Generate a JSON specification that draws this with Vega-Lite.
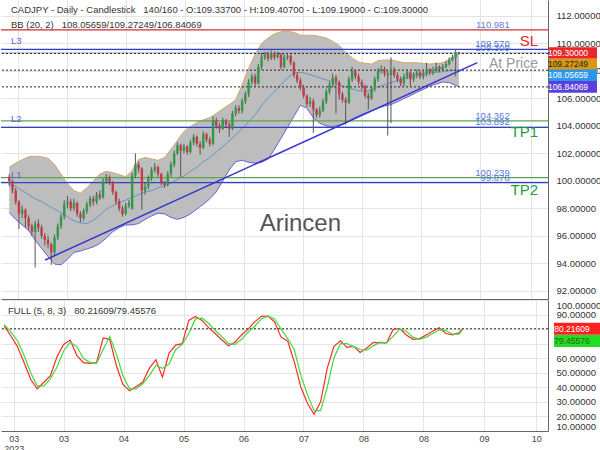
{
"$schema": "https://vega.github.io/schema/vega-lite/v6.json",
"background": "white",
"padding": 0,
"spacing": 1,
"config": {
 "view": {"stroke": null},
 "font": "Liberation Sans",
 "axis": {"gridColor": "#e4e4e4", "domainColor": "#666666", "labelColor": "#333333", "labelFont": "Liberation Sans", "labelFontSize": 9.5, "ticks": false, "title": null, "labelOverlap": false, "labelBound": false}
},
"datasets": {
 "candles": [
{"i":0,"o":100.3,"h":100.5,"l":99.6,"c":100.0},
{"i":1,"o":100.0,"h":100.1,"l":99.1,"c":99.3},
{"i":2,"o":99.3,"h":99.5,"l":98.3,"c":98.5},
{"i":3,"o":98.5,"h":98.6,"l":96.5,"c":97.6},
{"i":4,"o":97.6,"h":98.2,"l":97.3,"c":97.9},
{"i":5,"o":97.9,"h":98.0,"l":96.6,"c":97.3},
{"i":6,"o":97.3,"h":97.5,"l":96.4,"c":96.7},
{"i":7,"o":96.7,"h":96.9,"l":96.0,"c":96.3},
{"i":8,"o":96.3,"h":97.1,"l":93.7,"c":96.9},
{"i":9,"o":96.9,"h":97.2,"l":96.3,"c":96.6},
{"i":10,"o":96.6,"h":96.8,"l":95.8,"c":96.0},
{"i":11,"o":96.0,"h":96.2,"l":95.3,"c":95.7},
{"i":12,"o":95.7,"h":96.0,"l":95.1,"c":95.4},
{"i":13,"o":95.4,"h":95.5,"l":93.9,"c":94.8},
{"i":14,"o":94.8,"h":96.1,"l":94.6,"c":95.9},
{"i":15,"o":95.9,"h":96.9,"l":95.7,"c":96.7},
{"i":16,"o":96.7,"h":97.6,"l":96.5,"c":97.4},
{"i":17,"o":97.4,"h":98.6,"l":97.2,"c":98.3},
{"i":18,"o":98.3,"h":98.9,"l":98.0,"c":98.5},
{"i":19,"o":98.5,"h":98.7,"l":97.8,"c":98.0},
{"i":20,"o":98.0,"h":98.7,"l":97.8,"c":98.4},
{"i":21,"o":98.4,"h":98.5,"l":97.4,"c":97.6},
{"i":22,"o":97.6,"h":97.8,"l":97.0,"c":97.3},
{"i":23,"o":97.3,"h":98.0,"l":97.1,"c":97.8},
{"i":24,"o":97.8,"h":98.5,"l":97.6,"c":98.3},
{"i":25,"o":98.3,"h":98.9,"l":98.1,"c":98.7},
{"i":26,"o":98.7,"h":98.9,"l":98.2,"c":98.5},
{"i":27,"o":98.5,"h":99.2,"l":98.3,"c":99.0},
{"i":28,"o":99.0,"h":99.3,"l":98.6,"c":98.8},
{"i":29,"o":98.8,"h":100.2,"l":98.7,"c":100.0},
{"i":30,"o":100.0,"h":100.5,"l":99.8,"c":100.2},
{"i":31,"o":100.2,"h":100.4,"l":99.7,"c":99.9},
{"i":32,"o":99.9,"h":100.0,"l":99.0,"c":99.2},
{"i":33,"o":99.2,"h":99.3,"l":98.3,"c":98.5},
{"i":34,"o":98.5,"h":98.7,"l":97.8,"c":98.0},
{"i":35,"o":98.0,"h":98.2,"l":97.4,"c":97.6},
{"i":36,"o":97.6,"h":98.4,"l":97.5,"c":98.2},
{"i":37,"o":98.2,"h":98.6,"l":98.0,"c":98.4},
{"i":38,"o":98.0,"h":100.6,"l":97.9,"c":100.4},
{"i":39,"o":100.4,"h":102.0,"l":100.2,"c":101.2},
{"i":40,"o":101.2,"h":101.4,"l":100.6,"c":100.9},
{"i":41,"o":100.9,"h":101.0,"l":97.9,"c":99.3},
{"i":42,"o":99.3,"h":99.9,"l":99.0,"c":99.6},
{"i":43,"o":99.6,"h":100.4,"l":99.4,"c":100.2},
{"i":44,"o":100.2,"h":101.0,"l":100.0,"c":100.8},
{"i":45,"o":100.8,"h":101.3,"l":100.6,"c":101.0},
{"i":46,"o":101.0,"h":101.1,"l":100.3,"c":100.5},
{"i":47,"o":100.5,"h":100.6,"l":99.7,"c":99.9},
{"i":48,"o":99.9,"h":100.0,"l":99.5,"c":99.7},
{"i":49,"o":99.7,"h":100.7,"l":99.6,"c":100.5},
{"i":50,"o":100.5,"h":101.4,"l":100.3,"c":101.2},
{"i":51,"o":101.2,"h":102.2,"l":101.0,"c":102.0},
{"i":52,"o":102.0,"h":102.8,"l":101.9,"c":102.6},
{"i":53,"o":102.6,"h":102.7,"l":100.3,"c":102.2},
{"i":54,"o":102.2,"h":102.7,"l":102.0,"c":102.5},
{"i":55,"o":102.5,"h":102.6,"l":101.9,"c":102.1},
{"i":56,"o":102.1,"h":103.0,"l":102.0,"c":102.8},
{"i":57,"o":102.8,"h":103.4,"l":102.6,"c":103.2},
{"i":58,"o":103.2,"h":103.3,"l":102.5,"c":102.7},
{"i":59,"o":102.7,"h":102.9,"l":101.9,"c":102.4},
{"i":60,"o":102.4,"h":103.6,"l":102.3,"c":103.4},
{"i":61,"o":103.4,"h":103.5,"l":102.8,"c":103.0},
{"i":62,"o":103.0,"h":103.2,"l":102.5,"c":102.7},
{"i":63,"o":102.7,"h":104.7,"l":102.6,"c":104.4},
{"i":64,"o":104.4,"h":104.6,"l":103.8,"c":104.0},
{"i":65,"o":104.0,"h":104.2,"l":103.5,"c":103.8},
{"i":66,"o":103.8,"h":104.6,"l":103.7,"c":104.4},
{"i":67,"o":104.4,"h":104.5,"l":103.9,"c":104.1},
{"i":68,"o":104.1,"h":104.3,"l":103.2,"c":103.8},
{"i":69,"o":103.8,"h":105.1,"l":103.7,"c":104.9},
{"i":70,"o":104.9,"h":105.5,"l":104.7,"c":105.3},
{"i":71,"o":105.3,"h":105.5,"l":104.9,"c":105.1},
{"i":72,"o":105.1,"h":106.0,"l":104.9,"c":105.8},
{"i":73,"o":105.8,"h":106.5,"l":105.6,"c":106.3},
{"i":74,"o":106.3,"h":107.4,"l":106.1,"c":107.2},
{"i":75,"o":107.2,"h":107.8,"l":107.0,"c":107.6},
{"i":76,"o":107.6,"h":107.8,"l":106.9,"c":107.1},
{"i":77,"o":107.1,"h":108.5,"l":107.0,"c":108.3},
{"i":78,"o":108.3,"h":109.3,"l":108.1,"c":109.0},
{"i":79,"o":109.0,"h":109.4,"l":108.8,"c":109.2},
{"i":80,"o":109.2,"h":109.4,"l":108.7,"c":108.9},
{"i":81,"o":108.9,"h":109.5,"l":108.8,"c":109.3},
{"i":82,"o":109.3,"h":109.4,"l":108.8,"c":109.0},
{"i":83,"o":109.0,"h":109.4,"l":108.9,"c":109.2},
{"i":84,"o":109.2,"h":109.3,"l":108.1,"c":108.3},
{"i":85,"o":108.3,"h":109.2,"l":108.2,"c":109.0},
{"i":86,"o":109.0,"h":109.3,"l":108.8,"c":109.1},
{"i":87,"o":109.1,"h":109.2,"l":108.4,"c":108.6},
{"i":88,"o":108.6,"h":108.7,"l":107.5,"c":107.7},
{"i":89,"o":107.7,"h":107.9,"l":107.1,"c":107.3},
{"i":90,"o":107.3,"h":107.5,"l":106.6,"c":106.8},
{"i":91,"o":106.8,"h":107.0,"l":106.0,"c":106.2},
{"i":92,"o":106.2,"h":106.3,"l":105.4,"c":105.6},
{"i":93,"o":105.6,"h":106.1,"l":105.4,"c":105.8},
{"i":94,"o":105.8,"h":106.0,"l":103.5,"c":105.2},
{"i":95,"o":105.2,"h":105.3,"l":104.6,"c":104.8},
{"i":96,"o":104.8,"h":105.4,"l":104.6,"c":105.1},
{"i":97,"o":105.1,"h":106.0,"l":105.0,"c":105.8},
{"i":98,"o":105.8,"h":106.7,"l":105.6,"c":106.5},
{"i":99,"o":106.5,"h":107.2,"l":106.3,"c":107.0},
{"i":100,"o":107.0,"h":107.8,"l":106.8,"c":107.5},
{"i":101,"o":107.5,"h":107.7,"l":104.9,"c":107.2},
{"i":102,"o":107.2,"h":107.3,"l":105.9,"c":106.3},
{"i":103,"o":106.3,"h":106.5,"l":105.7,"c":105.9},
{"i":104,"o":105.9,"h":106.1,"l":104.1,"c":105.7},
{"i":105,"o":105.7,"h":107.6,"l":105.6,"c":107.4},
{"i":106,"o":107.4,"h":108.3,"l":107.2,"c":108.0},
{"i":107,"o":108.0,"h":108.1,"l":107.4,"c":107.6},
{"i":108,"o":107.6,"h":107.8,"l":107.0,"c":107.2},
{"i":109,"o":107.2,"h":107.4,"l":106.6,"c":106.9},
{"i":110,"o":106.9,"h":107.0,"l":106.0,"c":106.2},
{"i":111,"o":106.2,"h":106.4,"l":105.2,"c":106.0},
{"i":112,"o":106.0,"h":106.9,"l":105.9,"c":106.7},
{"i":113,"o":106.7,"h":107.6,"l":106.5,"c":107.4},
{"i":114,"o":107.4,"h":108.2,"l":107.2,"c":108.0},
{"i":115,"o":108.0,"h":108.4,"l":107.8,"c":108.1},
{"i":116,"o":108.1,"h":108.3,"l":107.6,"c":107.8},
{"i":117,"o":107.8,"h":108.0,"l":103.3,"c":107.7},
{"i":118,"o":107.7,"h":109.0,"l":104.2,"c":108.1},
{"i":119,"o":108.1,"h":108.3,"l":107.5,"c":107.7},
{"i":120,"o":107.7,"h":107.9,"l":107.2,"c":107.4},
{"i":121,"o":107.4,"h":107.6,"l":106.9,"c":107.1},
{"i":122,"o":107.1,"h":107.8,"l":106.9,"c":107.6},
{"i":123,"o":107.6,"h":108.1,"l":107.4,"c":107.9},
{"i":124,"o":107.9,"h":108.0,"l":106.9,"c":107.4},
{"i":125,"o":107.4,"h":107.9,"l":107.2,"c":107.7},
{"i":126,"o":107.7,"h":108.1,"l":107.5,"c":107.9},
{"i":127,"o":107.9,"h":108.0,"l":107.4,"c":107.6},
{"i":128,"o":107.6,"h":108.0,"l":107.4,"c":107.8},
{"i":129,"o":107.8,"h":108.6,"l":107.6,"c":108.1},
{"i":130,"o":108.1,"h":108.2,"l":107.7,"c":107.9},
{"i":131,"o":107.9,"h":108.3,"l":107.7,"c":108.0},
{"i":132,"o":108.0,"h":108.6,"l":107.9,"c":108.3},
{"i":133,"o":108.3,"h":108.4,"l":107.9,"c":108.1},
{"i":134,"o":108.1,"h":108.5,"l":108.0,"c":108.3},
{"i":135,"o":108.3,"h":108.7,"l":108.2,"c":108.5},
{"i":136,"o":108.5,"h":109.0,"l":108.4,"c":108.8},
{"i":137,"o":108.8,"h":109.2,"l":108.7,"c":109.0},
{"i":138,"o":109.0,"h":109.6,"l":107.6,"c":109.34},
{"i":139,"o":109.337,"h":109.407,"l":109.19,"c":109.3}
 ],
 "bb": [
{"i":0,"u":101.0,"m":99.8,"lo":97.7},
{"i":2,"u":101.3,"m":99.6,"lo":97.2},
{"i":4,"u":101.55,"m":99.3,"lo":96.8},
{"i":6,"u":101.75,"m":99.0,"lo":96.4},
{"i":8,"u":101.8,"m":98.7,"lo":95.7},
{"i":10,"u":101.75,"m":98.5,"lo":95.1},
{"i":12,"u":101.65,"m":98.2,"lo":94.5},
{"i":14,"u":101.2,"m":97.95,"lo":93.95},
{"i":16,"u":100.5,"m":97.7,"lo":93.9},
{"i":18,"u":99.8,"m":97.4,"lo":94.3},
{"i":20,"u":99.3,"m":97.1,"lo":94.8},
{"i":22,"u":99.1,"m":96.95,"lo":94.9},
{"i":24,"u":99.5,"m":96.9,"lo":95.05},
{"i":26,"u":100.0,"m":97.15,"lo":95.2},
{"i":28,"u":100.5,"m":97.5,"lo":95.45},
{"i":30,"u":100.7,"m":97.95,"lo":95.85},
{"i":32,"u":100.6,"m":98.2,"lo":96.3},
{"i":34,"u":100.45,"m":98.45,"lo":96.6},
{"i":36,"u":100.3,"m":98.6,"lo":96.8},
{"i":38,"u":100.75,"m":98.8,"lo":96.8},
{"i":40,"u":101.55,"m":99.0,"lo":96.9},
{"i":42,"u":101.7,"m":99.2,"lo":97.2},
{"i":44,"u":101.6,"m":99.3,"lo":97.45},
{"i":46,"u":101.5,"m":99.5,"lo":97.65},
{"i":48,"u":101.7,"m":99.65,"lo":97.6},
{"i":50,"u":102.3,"m":99.85,"lo":97.35},
{"i":52,"u":102.95,"m":100.1,"lo":97.2},
{"i":54,"u":103.6,"m":100.35,"lo":97.35},
{"i":56,"u":103.95,"m":100.7,"lo":97.6},
{"i":58,"u":104.25,"m":101.0,"lo":97.95},
{"i":60,"u":104.45,"m":101.4,"lo":98.3},
{"i":62,"u":104.6,"m":101.7,"lo":98.7},
{"i":64,"u":104.9,"m":102.1,"lo":99.2},
{"i":66,"u":105.25,"m":102.5,"lo":100.0},
{"i":68,"u":105.55,"m":102.9,"lo":100.8},
{"i":70,"u":105.9,"m":103.35,"lo":101.4},
{"i":72,"u":107.0,"m":103.8,"lo":101.5},
{"i":74,"u":108.2,"m":104.3,"lo":101.35},
{"i":76,"u":109.2,"m":104.8,"lo":101.3},
{"i":78,"u":110.0,"m":105.5,"lo":101.35},
{"i":80,"u":110.4,"m":106.0,"lo":101.6},
{"i":82,"u":110.7,"m":106.5,"lo":102.3},
{"i":84,"u":110.85,"m":107.0,"lo":103.1},
{"i":86,"u":110.9,"m":107.5,"lo":103.9},
{"i":88,"u":110.8,"m":107.85,"lo":104.7},
{"i":90,"u":110.6,"m":107.9,"lo":105.5},
{"i":92,"u":110.6,"m":107.8,"lo":105.3},
{"i":94,"u":110.6,"m":107.65,"lo":104.6},
{"i":96,"u":110.5,"m":107.5,"lo":104.2},
{"i":98,"u":110.4,"m":107.35,"lo":104.0},
{"i":100,"u":110.15,"m":107.2,"lo":103.95},
{"i":102,"u":109.85,"m":107.0,"lo":104.05},
{"i":104,"u":109.35,"m":106.85,"lo":104.2},
{"i":106,"u":108.95,"m":106.7,"lo":104.5},
{"i":108,"u":108.65,"m":106.55,"lo":104.75},
{"i":110,"u":108.55,"m":106.5,"lo":104.95},
{"i":112,"u":108.5,"m":106.6,"lo":105.1},
{"i":114,"u":108.75,"m":106.85,"lo":105.3},
{"i":116,"u":108.8,"m":107.0,"lo":105.45},
{"i":118,"u":108.8,"m":107.15,"lo":105.55},
{"i":120,"u":108.7,"m":107.3,"lo":105.75},
{"i":122,"u":108.6,"m":107.45,"lo":106.0},
{"i":124,"u":108.6,"m":107.6,"lo":106.2},
{"i":126,"u":108.6,"m":107.75,"lo":106.45},
{"i":128,"u":108.55,"m":107.8,"lo":106.65},
{"i":130,"u":108.5,"m":107.85,"lo":106.9},
{"i":132,"u":108.55,"m":107.9,"lo":107.05},
{"i":134,"u":108.6,"m":107.95,"lo":107.2},
{"i":136,"u":108.85,"m":108.0,"lo":107.15},
{"i":138,"u":109.2,"m":108.05,"lo":106.95},
{"i":139,"u":109.27249,"m":108.05659,"lo":106.84069}
 ],
 "stoch": [
{"i":0,"k":82,"d":83},{"i":2,"k":75.3,"d":78},{"i":4,"k":68,"d":72},{"i":6,"k":57,"d":62},{"i":8,"k":45.5,"d":50},
{"i":10,"k":39,"d":41},{"i":12,"k":43.5,"d":41},{"i":14,"k":48,"d":46},{"i":16,"k":61,"d":54},{"i":18,"k":69.5,"d":65},
{"i":20,"k":72.5,"d":71},{"i":22,"k":62,"d":68},{"i":24,"k":57,"d":60},{"i":26,"k":56.4,"d":57},{"i":28,"k":57,"d":56.5},
{"i":30,"k":74,"d":66},{"i":32,"k":73,"d":75},{"i":34,"k":55,"d":63},{"i":36,"k":42,"d":48},{"i":38,"k":37.6,"d":39},
{"i":40,"k":40.5,"d":39},{"i":42,"k":43.5,"d":42.5},{"i":44,"k":53,"d":48},{"i":46,"k":59,"d":55},{"i":48,"k":47,"d":53},
{"i":50,"k":63.5,"d":56},{"i":52,"k":69,"d":66},{"i":54,"k":70,"d":69.5},{"i":56,"k":86,"d":77},{"i":58,"k":88.7,"d":87},
{"i":60,"k":86,"d":87.5},{"i":62,"k":81,"d":84},{"i":64,"k":77,"d":79},{"i":66,"k":72.7,"d":75},{"i":68,"k":68.5,"d":70},
{"i":70,"k":71,"d":69.5},{"i":72,"k":76,"d":73},{"i":74,"k":80,"d":78},{"i":76,"k":85,"d":82},{"i":78,"k":88.8,"d":87},
{"i":80,"k":89,"d":89},{"i":82,"k":85,"d":87},{"i":84,"k":74.5,"d":80},{"i":86,"k":71.8,"d":73.5},{"i":88,"k":57.6,"d":66},
{"i":90,"k":40,"d":48},{"i":92,"k":29,"d":35},{"i":94,"k":21.5,"d":24},{"i":96,"k":30,"d":24},{"i":98,"k":53,"d":40},
{"i":100,"k":68,"d":60},{"i":102,"k":72,"d":70},{"i":104,"k":67.5,"d":70},{"i":106,"k":68.2,"d":68},{"i":108,"k":64,"d":66},
{"i":110,"k":67,"d":65.5},{"i":112,"k":70.9,"d":68.5},{"i":114,"k":70.5,"d":71},{"i":116,"k":70.5,"d":70.5},{"i":118,"k":79.8,"d":75},
{"i":120,"k":80.4,"d":80},{"i":122,"k":76,"d":78.5},{"i":124,"k":73,"d":74.5},{"i":126,"k":73.5,"d":73},{"i":128,"k":76,"d":74.5},
{"i":130,"k":78.5,"d":77},{"i":132,"k":80.9,"d":79.5},{"i":134,"k":77,"d":79},{"i":136,"k":76,"d":76.5},{"i":138,"k":77.5,"d":76.5},
{"i":139,"k":80.21609,"d":79.45576}
 ],
 "levels": [
{"v":110.981,"t":"110.981","kind":"red"},
{"v":109.57,"t":"109.570","kind":"blue"},
{"v":109.309,"t":"109.309","kind":"light"},
{"v":104.362,"t":"104.362","kind":"green"},
{"v":103.892,"t":"103.892","kind":"blue"},
{"v":100.239,"t":"100.239","kind":"green"},
{"v":99.878,"t":"99.878","kind":"blue"}
 ]
},
"vconcat": [
{
 "width": 547,
 "height": 299,
 "layer": [
  {
   "data": {"name": "bb"},
   "mark": {"type": "area", "color": "#bdbdbd", "opacity": 1},
   "encoding": {
    "x": {"field": "i", "type": "quantitative", "scale": {"domain": [-1, 165], "nice": false, "zero": false},
          "axis": {"values": [2.85, 17.97, 36.2, 54.4, 72.6, 90.8, 109.0, 127.2, 145.6, 161.4], "tickCount": 30, "grid": true, "labels": false, "ticks": false, "domain": true}},
    "y": {"field": "u", "type": "quantitative", "scale": {"domain": [91.41, 113.16], "nice": false, "zero": false},
          "axis": {"orient": "right", "values": [92,94,96,98,100,102,104,106,108,110,112], "tickCount": 30, "format": ".5f", "grid": true, "labelPadding": 8, "domain": true, "labelOverlap": false}},
    "y2": {"field": "lo"}
   }
  },
  {"data": {"name": "bb"}, "mark": {"type": "line", "color": "#d2aa6a", "strokeWidth": 1}, "encoding": {"x": {"field": "i", "type": "quantitative"}, "y": {"field": "u", "type": "quantitative"}}},
  {"data": {"name": "bb"}, "mark": {"type": "line", "color": "#6a5fd8", "strokeWidth": 1}, "encoding": {"x": {"field": "i", "type": "quantitative"}, "y": {"field": "lo", "type": "quantitative"}}},
  {"data": {"name": "bb"}, "mark": {"type": "line", "color": "#5b8fc0", "strokeWidth": 0.9}, "encoding": {"x": {"field": "i", "type": "quantitative"}, "y": {"field": "m", "type": "quantitative"}}},
  {"data": {"name": "levels"}, "transform": [{"filter": "datum.kind == 'red'"}], "mark": {"type": "rule", "color": "#d03030", "strokeWidth": 1.2}, "encoding": {"y": {"field": "v", "type": "quantitative"}}},
  {"data": {"name": "levels"}, "transform": [{"filter": "datum.kind == 'blue'"}], "mark": {"type": "rule", "color": "#3040cc", "strokeWidth": 1.2}, "encoding": {"y": {"field": "v", "type": "quantitative"}}},
  {"data": {"name": "levels"}, "transform": [{"filter": "datum.kind == 'light'"}], "mark": {"type": "rule", "color": "#9aa8e0", "strokeWidth": 1}, "encoding": {"y": {"field": "v", "type": "quantitative"}}},
  {"data": {"name": "levels"}, "transform": [{"filter": "datum.kind == 'green'"}], "mark": {"type": "rule", "color": "#5aa55a", "strokeWidth": 1.2}, "encoding": {"y": {"field": "v", "type": "quantitative"}}},
  {"data": {"values": [{"v": 109.27249}, {"v": 108.05659}, {"v": 106.84069}]}, "mark": {"type": "rule", "color": "#222222", "strokeWidth": 1, "strokeDash": [2, 2]}, "encoding": {"y": {"field": "v", "type": "quantitative"}}},
  {"data": {"name": "candles"}, "mark": {"type": "rule", "color": "#555555", "strokeWidth": 1}, "encoding": {"x": {"field": "i", "type": "quantitative"}, "y": {"field": "l", "type": "quantitative"}, "y2": {"field": "h"}}},
  {"data": {"name": "candles"}, "mark": {"type": "bar", "width": 2.4},
   "encoding": {"x": {"field": "i", "type": "quantitative"}, "y": {"field": "o", "type": "quantitative"}, "y2": {"field": "c"},
    "color": {"condition": {"test": "datum.c >= datum.o", "value": "#2f9a48"}, "value": "#c93a48"}}},
  {"data": {"values": [{"i": 11.1, "v": 94.25}, {"i": 144.7, "v": 108.6}]}, "mark": {"type": "line", "color": "#3434d4", "strokeWidth": 1.5}, "encoding": {"x": {"field": "i", "type": "quantitative"}, "y": {"field": "v", "type": "quantitative"}}},
  {"data": {"name": "levels"}, "mark": {"type": "text", "align": "right", "baseline": "bottom", "fontSize": 9.5, "color": "#5a7be0", "dy": 0},
   "encoding": {"x": {"datum": 154.7}, "y": {"field": "v", "type": "quantitative"}, "text": {"field": "t"}}},
  {"data": {"values": [{"v": 109.57, "t": "L3"}, {"v": 103.892, "t": "L2"}, {"v": 99.878, "t": "L1"}]}, "mark": {"type": "text", "align": "left", "baseline": "bottom", "fontSize": 9.5, "color": "#4a66d8", "dx": 5, "dy": -3},
   "encoding": {"x": {"datum": -1}, "y": {"field": "v", "type": "quantitative"}, "text": {"field": "t"}}},
  {"data": {"values": [{"t": "SL"}]}, "mark": {"type": "text", "align": "right", "baseline": "middle", "fontSize": 15, "color": "#e3262b", "dx": -5, "dy": 11},
   "encoding": {"x": {"datum": 165}, "y": {"datum": 110.981}, "text": {"field": "t"}}},
  {"data": {"values": [{"t": "At Price"}]}, "mark": {"type": "text", "align": "right", "baseline": "middle", "fontSize": 14, "color": "#9a9a9a", "dx": -5, "dy": 10.5},
   "encoding": {"x": {"datum": 165}, "y": {"datum": 109.27249}, "text": {"field": "t"}}},
  {"data": {"values": [{"t": "TP1"}]}, "mark": {"type": "text", "align": "right", "baseline": "middle", "fontSize": 15, "color": "#1e9e3e", "dx": -5, "dy": 5},
   "encoding": {"x": {"datum": 165}, "y": {"datum": 103.892}, "text": {"field": "t"}}},
  {"data": {"values": [{"t": "TP2"}]}, "mark": {"type": "text", "align": "right", "baseline": "middle", "fontSize": 15, "color": "#1e9e3e", "dx": -5, "dy": 7},
   "encoding": {"x": {"datum": 165}, "y": {"datum": 99.878}, "text": {"field": "t"}}},
  {"data": {"values": [{"t": "Arincen"}]}, "mark": {"type": "text", "align": "center", "baseline": "middle", "fontSize": 24, "color": "#555555"},
   "encoding": {"x": {"datum": 90}, "y": {"datum": 96.9}, "text": {"field": "t"}}},
  {"data": {"values": [{"t": "CADJPY - Daily - Candlestick \u00a0\u00a0140/160 - O:109.33700 - H:109.40700 - L:109.19000 - C:109.30000"}]},
   "mark": {"type": "text", "align": "left", "baseline": "middle", "fontSize": 9.5, "color": "#333333", "dx": 5, "dy": 10},
   "encoding": {"x": {"datum": -1}, "y": {"datum": 113.16}, "text": {"field": "t"}}},
  {"data": {"values": [{"t": "BB (20, 2) \u00a0\u00a0108.05659/109.27249/106.84069"}]},
   "mark": {"type": "text", "align": "left", "baseline": "middle", "fontSize": 9.5, "color": "#333333", "dx": 5, "dy": 25},
   "encoding": {"x": {"datum": -1}, "y": {"datum": 113.16}, "text": {"field": "t"}}},
  {"data": {"values": [{"v": 109.3}]}, "mark": {"type": "point", "shape": "M-1,-0.24L1,-0.24L1,0.24L-1,0.24Z", "size": 2304, "filled": true, "opacity": 1, "color": "#e8262b", "xOffset": 30}, "encoding": {"x": {"datum": 165}, "y": {"field": "v", "type": "quantitative"}}},
  {"data": {"values": [{"v": 109.3}]}, "mark": {"type": "text", "align": "center", "baseline": "middle", "fontSize": 8.5, "color": "white", "dx": 25}, "encoding": {"x": {"datum": 165}, "y": {"field": "v", "type": "quantitative"}, "text": {"value": "109.30000"}}},
  {"data": {"values": [{"v": 109.27249}]}, "mark": {"type": "point", "shape": "M-1,-0.24L1,-0.24L1,0.24L-1,0.24Z", "size": 2304, "filled": true, "opacity": 1, "color": "#d89a14", "xOffset": 30, "yOffset": 11}, "encoding": {"x": {"datum": 165}, "y": {"field": "v", "type": "quantitative"}}},
  {"data": {"values": [{"v": 109.27249}]}, "mark": {"type": "text", "align": "center", "baseline": "middle", "fontSize": 8.5, "color": "#222222", "dx": 25, "dy": 11}, "encoding": {"x": {"datum": 165}, "y": {"field": "v", "type": "quantitative"}, "text": {"value": "109.27249"}}},
  {"data": {"values": [{"v": 108.05659}]}, "mark": {"type": "point", "shape": "M-1,-0.24L1,-0.24L1,0.24L-1,0.24Z", "size": 2304, "filled": true, "opacity": 1, "color": "#2c96ee", "xOffset": 30, "yOffset": 5}, "encoding": {"x": {"datum": 165}, "y": {"field": "v", "type": "quantitative"}}},
  {"data": {"values": [{"v": 108.05659}]}, "mark": {"type": "text", "align": "center", "baseline": "middle", "fontSize": 8.5, "color": "white", "dx": 25, "dy": 5}, "encoding": {"x": {"datum": 165}, "y": {"field": "v", "type": "quantitative"}, "text": {"value": "108.05659"}}},
  {"data": {"values": [{"v": 106.84069}]}, "mark": {"type": "point", "shape": "M-1,-0.24L1,-0.24L1,0.24L-1,0.24Z", "size": 2304, "filled": true, "opacity": 1, "color": "#5a3fdc", "xOffset": 30}, "encoding": {"x": {"datum": 165}, "y": {"field": "v", "type": "quantitative"}}},
  {"data": {"values": [{"v": 106.84069}]}, "mark": {"type": "text", "align": "center", "baseline": "middle", "fontSize": 8.5, "color": "white", "dx": 25}, "encoding": {"x": {"datum": 165}, "y": {"field": "v", "type": "quantitative"}, "text": {"value": "106.84069"}}}
 ]
},
{
 "width": 547,
 "height": 131,
 "layer": [
  {"data": {"values": [{"v": 80.21609}]}, "mark": {"type": "rule", "color": "#222222", "strokeWidth": 1, "strokeDash": [2, 2]},
   "encoding": {
    "y": {"field": "v", "type": "quantitative", "scale": {"domain": [10, 100], "nice": false, "zero": false},
          "axis": {"orient": "right", "values": [10,20,30,40,50,60,70,80,90,100], "tickCount": 30, "format": ".5f", "grid": true, "labelPadding": 8, "labelFlush": true, "labelOverlap": false, "domain": true}}
   }},
  {"data": {"name": "stoch"}, "mark": {"type": "line", "color": "#ff2a2a", "strokeWidth": 1.2},
   "encoding": {
    "x": {"field": "i", "type": "quantitative", "scale": {"domain": [-1, 165], "nice": false, "zero": false},
          "axis": {"values": [2.85, 17.97, 36.2, 54.4, 72.6, 90.8, 109.0, 127.2, 145.6, 161.4], "tickCount": 30, "grid": true, "domain": true, "ticks": false, "labelFontSize": 9, "labelColor": "#444444", "labelPadding": 3, "labelLineHeight": 10, "labelBaseline": "top",
           "labelExpr": "datum.value < 5 ? ['03','2023'] : datum.value < 20 ? '03' : datum.value < 40 ? '04' : datum.value < 60 ? '05' : datum.value < 80 ? '06' : datum.value < 100 ? '07' : datum.value < 140 ? '08' : datum.value < 150 ? '09' : '10'"}},
    "y": {"field": "k", "type": "quantitative"}
   }},
  {"data": {"name": "stoch"}, "mark": {"type": "line", "color": "#3ddc3d", "strokeWidth": 1.2}, "encoding": {"x": {"field": "i", "type": "quantitative"}, "y": {"field": "d", "type": "quantitative"}}},
  {"data": {"values": [{"t": "FULL (5, 8, 3) \u00a0\u00a080.21609/79.45576"}]}, "mark": {"type": "text", "align": "left", "baseline": "middle", "fontSize": 9.5, "color": "#333333", "dx": 7, "dy": 11},
   "encoding": {"x": {"datum": -1}, "y": {"datum": 100}, "text": {"field": "t"}}},
  {"data": {"values": [{"v": 80.21609}]}, "mark": {"type": "point", "shape": "M-1,-0.26L1,-0.26L1,0.26L-1,0.26Z", "size": 2116, "filled": true, "opacity": 1, "color": "#ff2020", "xOffset": 29}, "encoding": {"x": {"datum": 165}, "y": {"field": "v", "type": "quantitative"}}},
  {"data": {"values": [{"v": 80.21609}]}, "mark": {"type": "text", "align": "center", "baseline": "middle", "fontSize": 8.5, "color": "white", "dx": 24}, "encoding": {"x": {"datum": 165}, "y": {"field": "v", "type": "quantitative"}, "text": {"value": "80.21609"}}},
  {"data": {"values": [{"v": 79.45576}]}, "mark": {"type": "point", "shape": "M-1,-0.26L1,-0.26L1,0.26L-1,0.26Z", "size": 2116, "filled": true, "opacity": 1, "color": "#22dd22", "xOffset": 29, "yOffset": 11}, "encoding": {"x": {"datum": 165}, "y": {"field": "v", "type": "quantitative"}}},
  {"data": {"values": [{"v": 79.45576}]}, "mark": {"type": "text", "align": "center", "baseline": "middle", "fontSize": 8.5, "color": "#2a5a2a", "dx": 24, "dy": 11}, "encoding": {"x": {"datum": 165}, "y": {"field": "v", "type": "quantitative"}, "text": {"value": "79.45576"}}}
 ]
}
]
}
